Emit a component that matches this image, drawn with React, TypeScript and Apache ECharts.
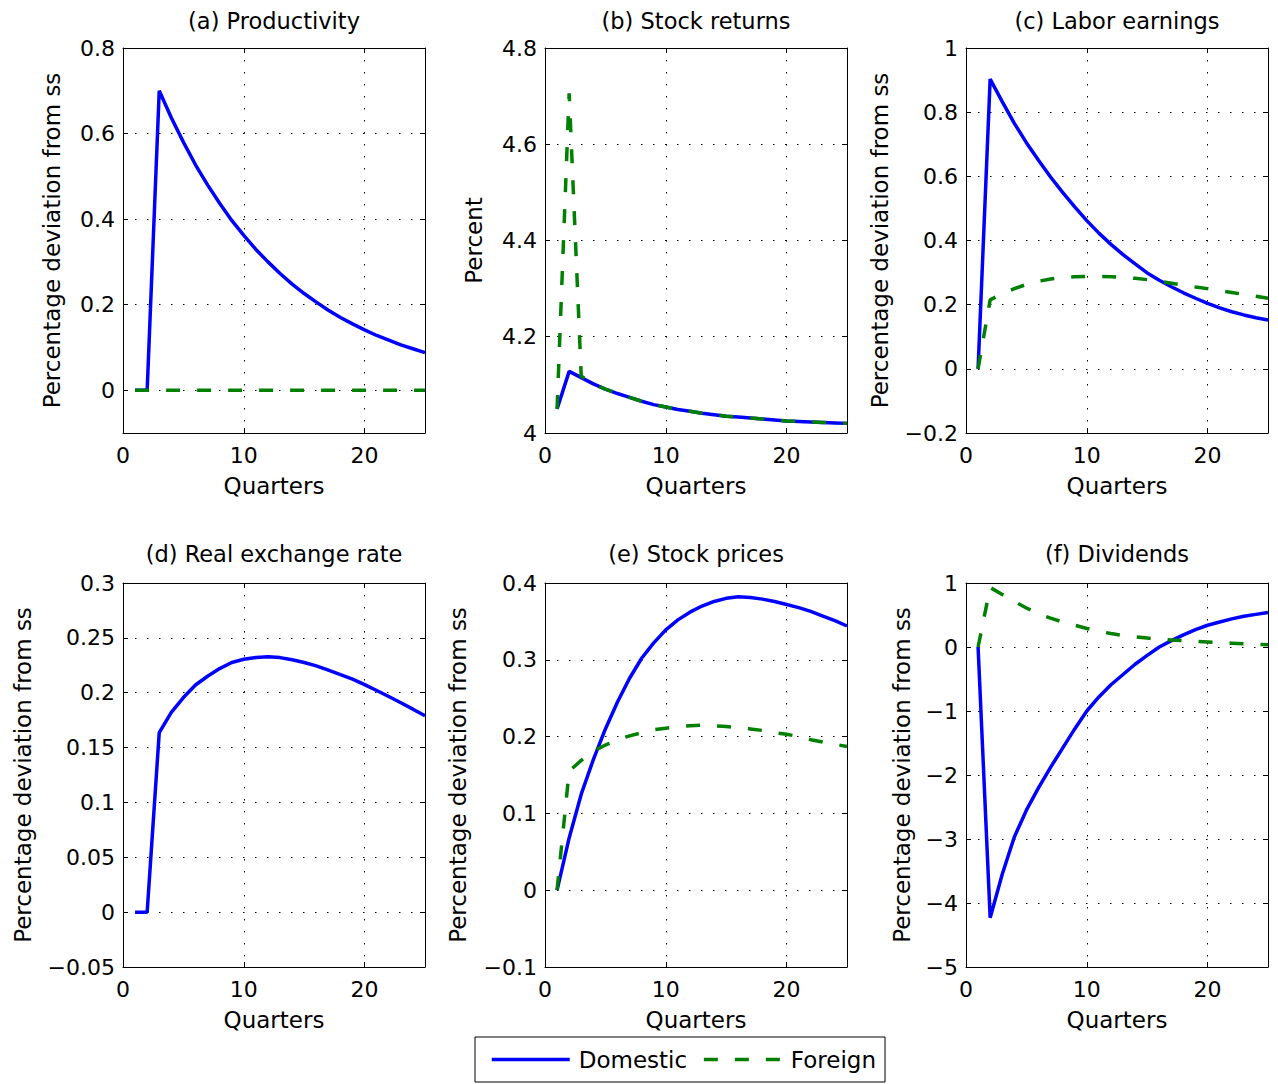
import React, { useEffect, useRef } from "react";
import * as echarts from "echarts";

// ---- data ----
const quarters = [1, 2, 3, 4, 5, 6, 7, 8, 9, 10, 11, 12, 13, 14, 15, 16, 17, 18, 19, 20, 21, 22, 23, 24, 25];
const xTicks = [0, 10, 20];

const prodDomestic = [0, 0, 0.7, 0.637, 0.58, 0.527, 0.48, 0.437, 0.397, 0.362, 0.329, 0.3, 0.273, 0.248, 0.226, 0.206, 0.187, 0.17, 0.155, 0.141, 0.128, 0.117, 0.106, 0.097, 0.088];
const prodForeign = [0, 0, 0, 0, 0, 0, 0, 0, 0, 0, 0, 0, 0, 0, 0, 0, 0, 0, 0, 0, 0, 0, 0, 0, 0];
const prodTicks = [0, 0.2, 0.4, 0.6, 0.8];

const retDomestic = [4.05, 4.128, 4.115, 4.102, 4.091, 4.082, 4.074, 4.066, 4.059, 4.054, 4.049, 4.045, 4.041, 4.038, 4.035, 4.033, 4.031, 4.029, 4.027, 4.025, 4.024, 4.023, 4.022, 4.021, 4.02];
const retForeign = [4.05, 4.706, 4.118, 4.102, 4.091, 4.082, 4.074, 4.066, 4.059, 4.054, 4.049, 4.045, 4.041, 4.038, 4.035, 4.033, 4.031, 4.029, 4.027, 4.025, 4.024, 4.023, 4.022, 4.021, 4.02];
const retTicks = [4, 4.2, 4.4, 4.6, 4.8];

const laborDomestic = [0, 0.903, 0.833, 0.765, 0.705, 0.65, 0.598, 0.55, 0.505, 0.462, 0.423, 0.388, 0.356, 0.327, 0.299, 0.276, 0.256, 0.237, 0.22, 0.204, 0.19, 0.178, 0.168, 0.159, 0.152];
const laborForeign = [0, 0.215, 0.234, 0.25, 0.263, 0.273, 0.28, 0.285, 0.287, 0.288, 0.288, 0.287, 0.285, 0.282, 0.278, 0.273, 0.267, 0.261, 0.255, 0.25, 0.244, 0.238, 0.232, 0.226, 0.22];
const laborTicks = [-0.2, 0, 0.2, 0.4, 0.6, 0.8, 1];

const rerDomestic = [0, 0, 0.1636, 0.182, 0.1956, 0.207, 0.215, 0.222, 0.2275, 0.2305, 0.232, 0.2327, 0.232, 0.23, 0.2275, 0.2245, 0.2205, 0.2165, 0.2123, 0.2074, 0.202, 0.1965, 0.1908, 0.185, 0.179];
const rerTicks = [-0.05, 0, 0.05, 0.1, 0.15, 0.2, 0.25, 0.3];

const priceDomestic = [0, 0.068, 0.125, 0.17, 0.21, 0.245, 0.276, 0.302, 0.322, 0.339, 0.352, 0.362, 0.37, 0.376, 0.38, 0.382, 0.381, 0.379, 0.376, 0.372, 0.368, 0.363, 0.357, 0.351, 0.344];
const priceForeign = [0, 0.155, 0.169, 0.181, 0.189, 0.196, 0.201, 0.205, 0.209, 0.211, 0.213, 0.214, 0.215, 0.214, 0.213, 0.212, 0.21, 0.208, 0.205, 0.203, 0.2, 0.196, 0.193, 0.19, 0.187];
const priceTicks = [-0.1, 0, 0.1, 0.2, 0.3, 0.4];

const divDomestic = [0, -4.23, -3.55, -2.97, -2.55, -2.2, -1.88, -1.58, -1.28, -1.0, -0.78, -0.59, -0.43, -0.27, -0.13, 0.0, 0.1, 0.19, 0.27, 0.34, 0.39, 0.44, 0.48, 0.51, 0.54];
const divForeign = [0, 0.93, 0.82, 0.71, 0.61, 0.52, 0.45, 0.39, 0.34, 0.29, 0.245, 0.21, 0.18, 0.16, 0.14, 0.12, 0.11, 0.1, 0.09, 0.08, 0.07, 0.06, 0.05, 0.04, 0.035];
const divTicks = [-5, -4, -3, -2, -1, 0, 1];

const titles = ["(a) Productivity", "(b) Stock returns", "(c) Labor earnings", "(d) Real exchange rate", "(e) Stock prices", "(f) Dividends"];
const yNames = ["Percentage deviation from ss", "Percent", "Percentage deviation from ss", "Percentage deviation from ss", "Percentage deviation from ss", "Percentage deviation from ss"];
const seriesNames = ["Domestic", "Foreign"];

const panels = [
  { title: titles[0], yName: yNames[0], min: -0.1, max: 0.8, ticks: prodTicks, dom: prodDomestic, fore: prodForeign, nameGap: 59.5 },
  { title: titles[1], yName: yNames[1], min: 4, max: 4.8, ticks: retTicks, dom: retDomestic, fore: retForeign, nameGap: 59.5 },
  { title: titles[2], yName: yNames[2], min: -0.2, max: 1, ticks: laborTicks, dom: laborDomestic, fore: laborForeign, nameGap: 74.5 },
  { title: titles[3], yName: yNames[3], min: -0.05, max: 0.3, ticks: rerTicks, dom: rerDomestic, fore: null, nameGap: 89 },
  { title: titles[4], yName: yNames[4], min: -0.1, max: 0.4, ticks: priceTicks, dom: priceDomestic, fore: priceForeign, nameGap: 75.5 },
  { title: titles[5], yName: yNames[5], min: -5, max: 1, ticks: divTicks, dom: divDomestic, fore: divForeign, nameGap: 52.5 },
];

const FONT = "DejaVu Sans";
const BLUE = "#0000ff";
const GREEN = "#008000";

export default function App() {
  const ref = useRef<HTMLDivElement>(null);

  useEffect(() => {
    if (!ref.current) return;
    const chart = echarts.init(ref.current, null, { renderer: "svg" });

    const lefts = [123, 545, 966];
    const tops = [48, 583];
    const heights = [385, 384];
    const titleGaps = [16, 18];
    const minus = (v: number) => String(v).replace("-", "\u2212");

    const grids: any[] = [];
    const xAxes: any[] = [];
    const yAxes: any[] = [];
    const series: any[] = [];

    const axisLine = { show: true, onZero: false, lineStyle: { color: "#000", width: 1 } };
    const tick = (vals: number[]) => ({
      show: true,
      inside: true,
      length: 5,
      lineStyle: { color: "#000", width: 1 },
      customValues: vals,
    });
    const grid = { show: true, lineStyle: { color: "#000", width: 1, type: [1.5, 10.5] } };
    const nameStyle = { fontFamily: FONT, fontSize: 23, color: "#000" };

    panels.forEach((p, i) => {
      const col = i % 3;
      const row = Math.floor(i / 3);
      grids.push({
        left: lefts[col],
        top: tops[row],
        width: 302,
        height: heights[row],
        containLabel: false,
        outerBoundsMode: "none",
      });
      xAxes.push({
        type: "value",
        gridIndex: i,
        position: "bottom",
        min: 0,
        max: 25,
        axisLine,
        axisTick: tick(xTicks),
        axisLabel: { customValues: xTicks, margin: 11, fontSize: 22, color: "#000", fontFamily: FONT },
        splitLine: grid,
        name: "Quarters",
        nameLocation: "middle",
        nameGap: 41,
        nameTextStyle: nameStyle,
      });
      xAxes.push({
        type: "value",
        gridIndex: i,
        position: "top",
        min: 0,
        max: 25,
        axisLine,
        axisTick: tick(xTicks),
        axisLabel: { show: false },
        splitLine: { show: false },
        name: p.title,
        nameLocation: "middle",
        nameGap: titleGaps[row],
        nameTextStyle: { fontFamily: FONT, fontSize: 22.5, color: "#000" },
      });
      yAxes.push({
        type: "value",
        gridIndex: i,
        position: "left",
        min: p.min,
        max: p.max,
        axisLine,
        axisTick: tick(p.ticks),
        axisLabel: { customValues: p.ticks, margin: 8, fontSize: 22, color: "#000", fontFamily: FONT, formatter: minus },
        splitLine: grid,
        name: p.yName,
        nameLocation: "middle",
        nameRotate: 90,
        nameGap: p.nameGap,
        nameTextStyle: nameStyle,
      });
      yAxes.push({
        type: "value",
        gridIndex: i,
        position: "right",
        min: p.min,
        max: p.max,
        axisLine,
        axisTick: tick(p.ticks),
        axisLabel: { show: false },
        splitLine: { show: false },
      });
      series.push({
        type: "line",
        name: seriesNames[0],
        xAxisIndex: 2 * i,
        yAxisIndex: 2 * i,
        data: quarters.map((q, k) => [q, p.dom[k]]),
        symbol: "none",
        lineStyle: { color: BLUE, width: 3.5 },
        itemStyle: { color: BLUE },
        silent: true,
      });
      if (p.fore) {
        const fore = p.fore;
        series.push({
          type: "line",
          name: seriesNames[1],
          xAxisIndex: 2 * i,
          yAxisIndex: 2 * i,
          data: quarters.map((q, k) => [q, fore[k]]),
          symbol: "none",
          lineStyle: { color: GREEN, width: 3.5, type: [14, 17] },
          itemStyle: { color: GREEN },
          silent: true,
        });
      }
    });

    chart.setOption({
      animation: false,
      backgroundColor: "#ffffff",
      textStyle: { fontFamily: FONT },
      grid: grids,
      xAxis: xAxes,
      yAxis: yAxes,
      series,
      legend: {
        data: seriesNames,
        left: 475,
        top: 1037,
        orient: "horizontal",
        itemWidth: 78,
        itemHeight: 14,
        itemGap: 15,
        padding: [11, 9, 11, 15],
        borderColor: "#000",
        borderWidth: 1,
        borderRadius: 0,
        itemStyle: { opacity: 0 },
        lineStyle: { width: 3.5 },
        textStyle: { fontFamily: FONT, fontSize: 23, color: "#000", padding: [0, 0, 0, 4] },
        selectedMode: false,
      },
    });

    return () => chart.dispose();
  }, []);

  return (
    <div
      ref={ref}
      style={{ position: "absolute", left: 0, top: 0, width: 1278, height: 1084, background: "#fff" }}
    />
  );
}
